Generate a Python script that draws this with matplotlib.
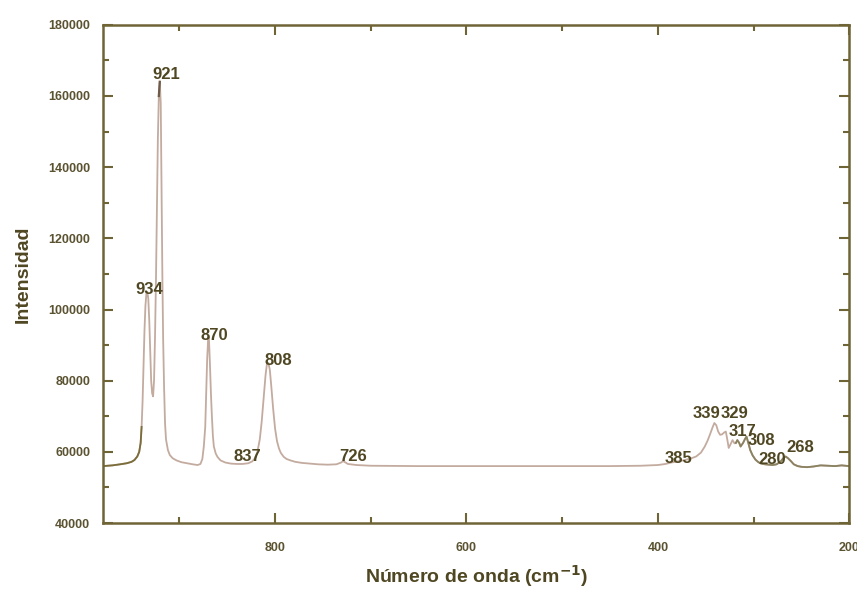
import matplotlib
matplotlib.use("Agg")
import matplotlib.pyplot as plt
import numpy as np
from matplotlib.ticker import MultipleLocator

# Raman spectrum
wavenumber = [980, 970, 962, 955, 950, 947, 944, 942, 940.5, 939.5, 938.5, 937.5,
              936.5, 935.5, 934.5, 933.5, 932.5, 931.5, 930.5, 929.5, 928.5,
              927.5, 926.5, 925.5, 924.5, 923.5, 922.5, 921.5, 920.5, 919.5,
              918.5, 917.8, 917, 916, 915, 914, 912, 910, 907, 903, 898, 892,
              886, 881, 878, 876, 874.5, 873, 872, 871, 870, 869.5, 869, 868,
              867, 866, 865, 864, 862, 860, 857, 852, 846, 840, 834, 828, 824,
              821, 818.5, 816, 814, 812, 810, 808.5, 807, 805.5, 804, 802,
              800, 798, 796, 794, 791, 788, 784, 779, 772, 764, 755, 745, 736,
              731, 729, 727, 724, 715, 700, 650, 600, 550, 500, 450, 418, 400,
              392, 386, 380, 372, 366, 360, 355, 351, 348, 345, 343, 341, 339,
              337, 335, 333, 331, 329, 327.5, 326, 324, 322, 320, 318.5, 317,
              315, 313.6, 311, 309, 307.4, 305.5, 303.5, 301, 298, 295, 292,
              288, 284, 280, 276, 272, 269, 266.5, 264, 261, 258, 254, 250,
              244, 237, 230, 222, 215, 208, 200]
intensity = [56000, 56200, 56500, 56800, 57200, 57700, 58700, 60000, 62500,
             67000, 74000, 84000, 94000, 101000, 104500, 105000, 103000, 97000,
             88000, 80000, 76500, 75600, 80000, 92000, 108000, 128000, 148000,
             160000, 164000, 158000, 130000, 109700, 92000, 78000, 68000, 63500,
             60500, 59100, 58200, 57600, 57100, 56800, 56500, 56300, 56600,
             58000, 61500, 67000, 76000, 86000, 91500, 92300, 91000, 84000,
             76000, 69800, 64500, 61500, 59500, 58500, 57600, 57000, 56700,
             56600, 56600, 56800, 57300, 58200, 60000, 63500, 68500, 75000,
             81500, 84800, 85000, 83000, 78500, 72000, 66500, 63000, 61000,
             59700, 58600, 58000, 57600, 57200, 56900, 56700, 56500, 56400,
             56500, 57000, 57400, 57100, 56600, 56300, 56100, 56000, 56000,
             56000, 56000, 56000, 56100, 56300, 56600, 57000, 57300, 57700,
             58100, 58700, 59800, 61500, 63200, 65300, 66800, 68100, 67500,
             65700, 64800, 64900, 65400, 65700, 63500, 61100, 62200, 63300,
             62400, 62500, 63300, 62500, 61500, 62500, 63600, 64300, 62500,
             60500, 59000, 57800, 57100, 56700, 56500, 56400, 56300, 56500,
             57200, 58200, 58700, 58200, 57400, 56500, 56000, 55800, 55700,
             55900, 56200, 56100, 56000, 56200, 56000]

peak_labels = ['934', '921', '870', '837', '808', '726', '385', '339', '329',
               '317', '308', '280', '268']
label_x = [931, 914, 863, 828.6, 797, 718, 378, 349, 320, 311.6, 291.7, 280.3, 251]
label_y = [105500, 165900, 92600, 58600, 85800, 58600, 58200, 70900, 70900,
           65600, 63300, 57800, 61100]

axis_col = '#6e6436'
text_col = '#4f4622'
line_col = '#c3ab9f'

plt.rcParams['font.family'] = ['Liberation Sans', 'DejaVu Sans']
plt.rcParams['font.weight'] = 'bold'

fig = plt.figure(figsize=(8.57, 5.91), dpi=100)
ax = fig.add_axes([0.120, 0.115, 0.871, 0.843])

wn = np.array(wavenumber)
it = np.array(intensity)
ax.plot(wn, it, color=line_col, lw=1.3)
# darker stretches of the trace
left = wn >= 939
ax.plot(wn[left], it[left], color='#7a6d3a', lw=1.3)
right = wn <= 318.5
ax.plot(wn[right], it[right], color='#8a8260', lw=1.3)
tip = (wn >= 920.5) & (wn <= 921.5)
ax.plot(wn[tip], it[tip], color='#6e5a48', lw=1.6)

for t, x, y in zip(peak_labels, label_x, label_y):
    ax.text(x, y, t, ha='center', va='center', fontsize=12,
            fontweight='bold', color=text_col)

ax.set_xlim(980, 200)
ax.set_ylim(40000, 180000)
ax.xaxis.set_major_locator(MultipleLocator(200))
ax.xaxis.set_minor_locator(MultipleLocator(100))
ax.yaxis.set_major_locator(MultipleLocator(20000))
ax.yaxis.set_minor_locator(MultipleLocator(10000))

for s in ax.spines.values():
    s.set_color(axis_col)
    s.set_linewidth(1.8)

ax.tick_params(which='both', direction='in', top=True, right=True,
               color=axis_col, width=1.5)
ax.tick_params(which='major', length=7, pad=9)
ax.tick_params(which='minor', length=4)
ax.tick_params(axis='x', which='major', pad=14)

for lab in ax.get_xticklabels() + ax.get_yticklabels():
    lab.set_fontsize(9)
    lab.set_fontweight('bold')
    lab.set_color('#5a5230')

ax.set_xlabel('Número de onda (cm$^{\\mathbf{-1}}$)', fontsize=14,
              fontweight='bold', color=text_col, labelpad=6)
ax.set_ylabel('Intensidad', fontsize=14, fontweight='bold', color=text_col,
              labelpad=12)

fig.savefig('out.png', dpi=100)
